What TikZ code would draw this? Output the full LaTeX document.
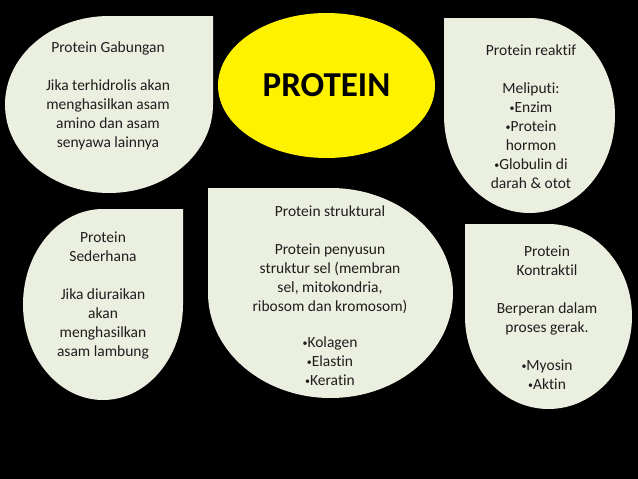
\documentclass[tikz,border=0pt]{standalone}
\usepackage{fontspec}
\setmainfont{Carlito}[Ligatures=NoCommon]
\usepackage{tikz}
\usetikzlibrary{shapes.geometric}
\definecolor{dropfill}{HTML}{EBEFE0}
\definecolor{inktext}{HTML}{1E1E1E}
\tikzstyle{drop} = [fill=dropfill]
\tikzstyle{info} = [align=center, text=inktext, inner sep=0pt, font=\fontsize{15.5}{19}\selectfont]
\newcommand{\bul}{{\fontsize{10}{10}\selectfont\raisebox{1pt}{•}}}

\begin{document}
\begin{tikzpicture}[x=1pt, y=-1pt]
            \fill[black] (0,0) rectangle (638,479);
            \useasboundingbox (0,0) rectangle (638,479);

            \fill[drop] (213,104.5) arc[start angle=0, end angle=270, x radius=104, y radius=88.5] -- (213,16) -- cycle;
            \fill[drop] (529.5,18) arc[start angle=270, end angle=540, x radius=85.5, y radius=97.5] -- (444,18) -- cycle;
            \fill[drop] (183,304.5) arc[start angle=0, end angle=270, x radius=80, y radius=95.5] -- (183,209) -- cycle;
            \fill[drop] (330.5,188) arc[start angle=270, end angle=540, x radius=122.5, y radius=105] -- (208,188) -- cycle;
            \fill[drop] (548.5,224) arc[start angle=270, end angle=540, x radius=83.5, y radius=92.5] -- (465,224) -- cycle;

            \node[ellipse, fill=yellow, inner sep=0pt, minimum width=217pt, minimum height=145pt,
                  font=\bfseries\fontsize{35}{40}\selectfont] (protein) at (326.5,85.5) {PROTEIN};

            \node[info] (gabungan) at (108,96) {Protein Gabungan\\[19pt]Jika terhidrolis akan\\menghasilkan asam\\amino dan asam\\senyawa lainnya};
            \node[info] (reaktif) at (531,116.5) {Protein reaktif\\[19pt]Meliputi:\\\bul Enzim\\\bul Protein\\hormon\\\bul Globulin di\\darah \& otot};
            \node[info] (sederhana) at (103,295.5) {Protein\\Sederhana\\[19pt]Jika diuraikan\\akan\\menghasilkan\\asam lambung};
            \node[info] (struktural) at (330,295.5) {Protein struktural\\[19pt]Protein penyusun\\struktur sel (membran\\sel, mitokondria,\\ribosom dan kromosom)\\[17pt]\bul Kolagen\\\bul Elastin\\\bul Keratin};
            \node[info] (kontraktil) at (547,318) {Protein\\Kontraktil\\[19pt]Berperan dalam\\proses gerak.\\[19pt]\bul Myosin\\\bul Aktin};
        \end{tikzpicture}
\end{document}
